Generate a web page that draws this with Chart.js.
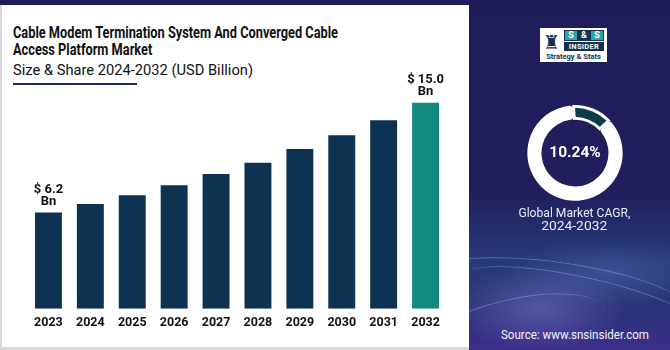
<!DOCTYPE html>
<html>
<head>
<meta charset="utf-8">
<script src="https://cdn.jsdelivr.net/npm/chart.js@4.4.1/dist/chart.umd.min.js"></script>
<style>
  html, body { margin: 0; padding: 0; }
  body {
    width: 670px; height: 350px; position: relative; overflow: hidden;
    background: #d7d7dc; font-family: Roboto, "Noto Sans", sans-serif;
  }
  .topband { position: absolute; left: 0; top: 0; width: 670px; height: 5px; background: #201c5b; }
  .panel { position: absolute; left: 2px; top: 5px; width: 467px; height: 342px; background: #fff; }
  .fit { position: absolute; white-space: nowrap; transform-origin: left top; display: inline-block; }
  .title { left: 13px; top: 23.5px; font-size: 16px; line-height: 17.5px; font-weight: 700; color: #111; }
  .subtitle { left: 13px; top: 61px; font-size: 15px; line-height: 18px; color: #111; }
  .underline { position: absolute; left: 13px; top: 83px; width: 124px; height: 2px; background: #1c2a5a; }
  #bars { position: absolute; left: 0; top: 0; }
  .side {
    position: absolute; left: 469px; top: 0; width: 201px; height: 350px; overflow: hidden;
    background:
      radial-gradient(ellipse 60% 18% at 35% 88%, rgba(160,150,240,0.35), rgba(160,150,240,0) 70%),
      radial-gradient(ellipse 70% 14% at 70% 78%, rgba(120,150,230,0.25), rgba(120,150,230,0) 70%),
      linear-gradient(180deg, #201d5c 0%, #201e5d 55%, #283a7a 74%, #2b3578 86%, #3b2d88 100%);
  }
  .wave { position: absolute; border-radius: 50%; border-top: 1px solid rgba(200,200,255,0.35); }
  #ring { position: absolute; left: 520px; top: 98px; }
  .cagr {
    position: absolute; left: 525px; top: 143px; width: 100px; text-align: center;
    color: #fff; font-weight: 700; font-size: 15.5px; line-height: 18px;
  }
  .cap { color: #e9e9f6; font-size: 13.5px; line-height: 14px; transform-origin: center top; }
  .source { left: 501px; top: 326px; color: #f2f2fa; font-size: 13.5px; line-height: 16px; }
  .logo {
    position: absolute; left: 540px; top: 28px; width: 67px; height: 34px; background: #fff;
  }
  .castle { position: absolute; left: 3px; top: 4px; font-size: 19px; line-height: 20px; color: #16314f; font-family: "DejaVu Sans", sans-serif; }
  .ss { position: absolute; left: 24px; top: 2px; width: 40px; height: 11px; background: #16314f; }
  .ss span { position: absolute; top: 1px; height: 9px; font-size: 9px; line-height: 9px; font-weight: 700; text-align: center; }
  .s1 { left: 1px; width: 12px; background: #2aa6a6; color: #fff; }
  .amp { left: 14px; width: 12px; color: #fff; }
  .s2 { left: 27px; width: 12px; background: #2aa6a6; color: #fff; }
  .insider {
    position: absolute; left: 24px; top: 14px; width: 40px; height: 9px; background: #16314f;
    color: #fff; font-size: 7.5px; line-height: 9px; font-weight: 700; text-align: center; letter-spacing: 0.3px;
  }
  .strat {
    position: absolute; left: 2px; top: 24px; width: 63px; text-align: center;
    color: #16314f; font-size: 7.5px; line-height: 9px; font-weight: 700;
  }
</style>
</head>
<body>
<div class="topband"></div>
<div class="panel"></div>
<div class="fit title" data-w="325">Cable Modem Termination System And Converged Cable<br>Access Platform Market</div>
<div class="fit subtitle" data-w="240">Size &amp; Share 2024-2032 (USD Billion)</div>
<div class="underline"></div>
<canvas id="bars" width="470" height="350"></canvas>

<div class="side">
  <div class="wave" style="left:-40px; top:262px; width:260px; height:60px; transform:rotate(8deg);"></div>
  <div class="wave" style="left:-10px; top:276px; width:240px; height:50px; transform:rotate(12deg);"></div>
  <div class="wave" style="left:-60px; top:300px; width:200px; height:70px; transform:rotate(-14deg);"></div>
</div>
<div class="logo">
  <div class="castle">♜</div>
  <div class="ss"><span class="s1">S</span><span class="amp">&amp;</span><span class="s2">S</span></div>
  <div class="insider">INSIDER</div>
  <div class="strat">Strategy &amp; Stats</div>
</div>
<canvas id="ring" width="110" height="110"></canvas>
<div class="cagr" id="cagrText"></div>
<div class="fit cap" data-w="112" data-cx="574" style="top:205px;">Global Market CAGR,</div>
<div class="fit cap" data-w="66" data-cx="574" style="top:218px;">2024-2032</div>
<div class="fit source" data-w="148">Source: www.snsinsider.com</div>

<script>
// Market size by year (USD Billion)
const years = ['2023', '2024', '2025', '2026', '2027', '2028', '2029', '2030', '2031', '2032']
const marketSize = [6.2, 6.9, 7.6, 8.4, 9.3, 10.2, 11.3, 12.4, 13.6, 15.0]
const labelledYears = ['2023', '2032']

// CAGR badge and the share of the ring that is highlighted
const cagrValue = 10.24
const ringShare = [14, 86]

// The bars in the picture do not grow from zero, so the axis floor sits below it
const axisFloor = -1.5

// Squeeze text to the widths seen in the picture
document.querySelectorAll('.fit').forEach((el) => {
  const target = Number(el.dataset.w)
  const w = el.getBoundingClientRect().width
  if (el.dataset.cx) el.style.left = (Number(el.dataset.cx) - w / 2) + 'px'
  if (w > 0) el.style.transform = `scaleX(${target / w})`
})

document.getElementById('cagrText').textContent = cagrValue.toFixed(2) + '%'

// Value labels above the first and last bars
const barLabels = {
  id: 'barLabels',
  afterDatasetsDraw(chart) {
    const ctx = chart.ctx
    const meta = chart.getDatasetMeta(0)
    ctx.save()
    ctx.fillStyle = '#111'
    ctx.font = 'bold 13px Roboto, sans-serif'
    ctx.textAlign = 'center'
    ctx.textBaseline = 'alphabetic'
    meta.data.forEach((bar, i) => {
      if (!labelledYears.includes(years[i])) return
      const v = marketSize[i]
      ctx.fillText('Bn', bar.x, bar.y - 7.5)
      ctx.fillText(`$ ${v.toFixed(1)}`, bar.x, bar.y - 20)
    })
    ctx.restore()
  }
}

new Chart(document.getElementById('bars').getContext('2d'), {
  type: 'bar',
  data: {
    labels: years,
    datasets: [
      {
        data: marketSize,
        base: axisFloor,
        backgroundColor: years.map((y, i) => (i === years.length - 1 ? '#138a80' : '#0e3352')),
        borderWidth: 0,
        barPercentage: 0.643,
        categoryPercentage: 1
      }
    ]
  },
  options: {
    responsive: false,
    animation: false,
    events: [],
    layout: { padding: { left: 27.5, right: 23.5, top: 40.4, bottom: 12.7 } },
    plugins: { legend: { display: false }, tooltip: { enabled: false } },
    scales: {
      x: {
        grid: { display: false, drawTicks: false },
        border: { display: false },
        ticks: {
          color: '#111',
          padding: 6.8,
          font: { family: 'Roboto', size: 12.5, weight: 'bold' }
        }
      },
      y: { display: false, min: axisFloor, max: 20 }
    }
  },
  plugins: [barLabels]
})

// CAGR ring
new Chart(document.getElementById('ring').getContext('2d'), {
  type: 'doughnut',
  data: {
    labels: ['highlight', 'rest'],
    datasets: [
      {
        data: ringShare,
        backgroundColor: ['#0c3b4c', '#ffffff'],
        borderColor: ['#ffffff', '#ffffff'],
        borderWidth: [2.5, 0],
        borderAlign: 'inner',
        borderRadius: 3
      }
    ]
  },
  options: {
    responsive: false,
    animation: false,
    events: [],
    radius: 48,
    cutout: 38,
    rotation: -3,
    plugins: { legend: { display: false }, tooltip: { enabled: false } }
  }
})
</script>
</body>
</html>
